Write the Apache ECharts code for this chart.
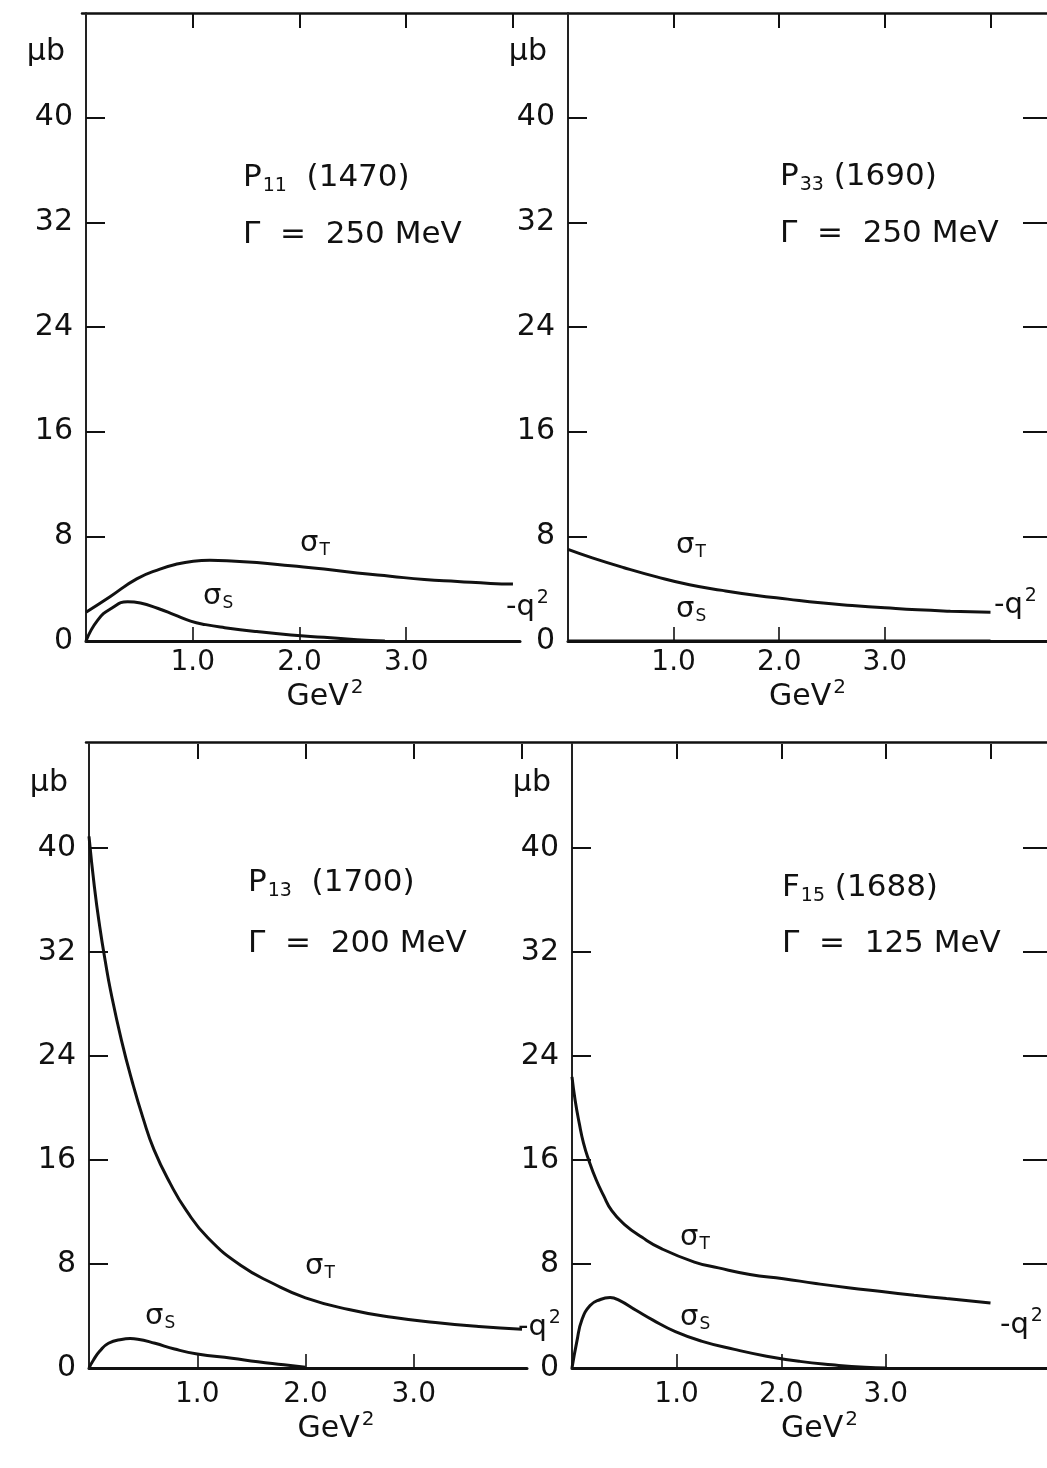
<!DOCTYPE html>
<html><head><meta charset="utf-8">
<script src="https://cdn.jsdelivr.net/npm/echarts@6/dist/echarts.min.js"></script>
<style>html,body{margin:0;padding:0;background:#fff}#c{width:1047px;height:1468px}</style>
</head><body><div id="c"></div>
<script>
// ---------- data ----------
// x = -q^2 (GeV^2), y = cross section (microbarn)
const p11T_x = [0, 0.225, 0.475, 0.693, 0.85, 1.005, 1.16, 1.318, 1.6, 1.92, 2.23, 2.54, 2.85, 3.17, 3.48, 3.79, 4.0];
const p11T_y = [2.2, 3.39, 4.75, 5.5, 5.88, 6.1, 6.17, 6.14, 6.0, 5.75, 5.5, 5.2, 4.95, 4.7, 4.55, 4.4, 4.35];
const p11S_x = [0, 0.11, 0.24, 0.39, 0.51, 0.67, 0.83, 0.98, 1.12, 1.3, 1.6, 1.92, 2.23, 2.54, 2.8];
const p11S_y = [0, 1.6, 2.5, 3.0, 2.9, 2.5, 2.0, 1.52, 1.25, 1.02, 0.72, 0.46, 0.28, 0.1, 0];

const p33T_x = [0, 0.23, 0.53, 0.84, 1.15, 1.46, 1.77, 2.08, 2.39, 2.69, 3.0, 3.31, 3.62, 4.0];
const p33T_y = [7.0, 6.35, 5.6, 4.9, 4.3, 3.87, 3.5, 3.2, 2.92, 2.72, 2.54, 2.38, 2.28, 2.2];
const p33S_x = [0, 1.0, 2.0, 3.0, 4.0];
const p33S_y = [0, 0, 0, 0, 0];

const p13T_x = [0, 0.05, 0.1, 0.15, 0.2, 0.3, 0.4, 0.5, 0.6, 0.75, 0.9, 1.1, 1.4, 1.7, 2.0, 2.4, 2.8, 3.2, 3.6, 4.0];
const p13T_y = [40.9, 37.0, 33.9, 31.3, 29.0, 25.2, 22.0, 19.2, 16.8, 14.2, 12.1, 10.0, 7.9, 6.5, 5.4, 4.5, 3.9, 3.5, 3.2, 2.98];
const p13S_x = [0, 0.04, 0.1, 0.18, 0.3, 0.38, 0.45, 0.61, 0.79, 1.0, 1.32, 1.56, 1.8, 2.0];
const p13S_y = [0, 0.6, 1.3, 1.9, 2.2, 2.26, 2.22, 1.9, 1.46, 1.08, 0.75, 0.48, 0.25, 0.05];

const f15T_x = [0, 0.03, 0.07, 0.11, 0.16, 0.23, 0.3, 0.38, 0.5, 0.67, 0.85, 1.17, 1.4, 1.7, 2.02, 2.33, 2.64, 2.96, 3.27, 3.58, 4.0];
const f15T_y = [22.4, 20.6, 18.8, 17.3, 16.0, 14.5, 13.3, 12.1, 11.05, 10.05, 9.2, 8.15, 7.7, 7.2, 6.87, 6.5, 6.17, 5.88, 5.6, 5.34, 5.0];
const f15S_x = [0, 0.047, 0.094, 0.173, 0.265, 0.364, 0.453, 0.612, 0.77, 0.988, 1.236, 1.553, 1.86, 2.177, 2.484, 2.8, 3.01];
const f15S_y = [0, 2.07, 3.7, 4.8, 5.25, 5.42, 5.2, 4.44, 3.7, 2.8, 2.07, 1.43, 0.91, 0.51, 0.25, 0.05, 0];

// tick / label values
const yTickValues = [8, 16, 24, 32, 40];
const yLabelValues = [0, 8, 16, 24, 32, 40, 45];   // 45 carries the unit "μb"
const xLabelValues = [1, 2, 3];
const xTopTickValues = [1, 2, 3, 4];
const Y_MAX = 48;

const panelNames = ['P|11|  (1470)', 'P|33| (1690)', 'P|13|  (1700)', 'F|15| (1688)'];
const panelWidths = ['Γ  =  250 MeV', 'Γ  =  250 MeV', 'Γ  =  200 MeV', 'Γ  =  125 MeV'];

// ---------- layout / style ----------
const FONT = 'DejaVu Sans';
const INK = '#111';
const panels = [
  {left: 86,  top: 13,  width: 434, height: 628, xmax: 4.066, lblMargin: 8,  nameGap: 36, nameShift: 44, title:[243,178,235], sT:[300,543], sS:[203,596], q:[506,607], right:false},
  {left: 568, top: 13,  width: 492, height: 628, xmax: 4.535, lblMargin: 8,  nameGap: 36, nameShift: 0,  title:[780,177,234], sT:[676,545], sS:[676,609], q:[994,605], right:true},
  {left: 89,  top: 744, width: 438, height: 624, xmax: 4.046, lblMargin: 13, nameGap: 42, nameShift: 56, title:[248,883,944], sT:[305,1266], sS:[145,1316], q:[518,1327], right:false},
  {left: 572, top: 744, width: 488, height: 624, xmax: 4.54,  lblMargin: 13, nameGap: 42, nameShift: 20, title:[782,888,944], sT:[680,1237], sS:[680,1317], q:[1000,1325], right:true}
];
const curves = [
  [[p11T_x, p11T_y], [p11S_x, p11S_y]],
  [[p33T_x, p33T_y], [p33S_x, p33S_y]],
  [[p13T_x, p13T_y], [p13S_x, p13S_y]],
  [[f15T_x, f15T_y], [f15S_x, f15S_y]]
];

function rich(size) {
  const t = {fontFamily: FONT, color: INK, fill: INK};
  return {
    m:   Object.assign({fontSize: size}, t),
    sub: Object.assign({fontSize: Math.round(size * 0.6), padding: [Math.round(size * 0.55), 0, 0, 1]}, t),
    sup: Object.assign({fontSize: Math.round(size * 0.65), padding: [0, 0, Math.round(size * 0.6), 2]}, t)
  };
}

const grid = [], xAxis = [], yAxis = [], series = [], graphic = [];

panels.forEach((p, i) => {
  grid.push({left: p.left, top: p.top, width: p.width, height: p.height, containLabel: false});
  const xb = xAxis.length;
  xAxis.push({
    gridIndex: i, type: 'value', min: 0, max: p.xmax, position: 'bottom',
    axisLine: {show: true, onZero: false, lineStyle: {color: INK, width: 3}},
    axisTick: {show: true, inside: true, length: 14, customValues: xLabelValues, lineStyle: {color: INK, width: 1.6}},
    axisLabel: {show: true, customValues: xLabelValues, formatter: v => Number(v).toFixed(1),
                fontFamily: FONT, fontSize: 28, color: INK, margin: p.lblMargin},
    splitLine: {show: false},
    name: '{m|GeV}{sup|2}', nameLocation: 'middle', nameGap: p.nameGap,
    nameTextStyle: {rich: rich(30), padding: [0, 0, 0, p.nameShift]}
  });
  xAxis.push({
    gridIndex: i, type: 'value', min: 0, max: p.xmax, position: 'top',
    axisLine: {show: false, onZero: false},
    axisTick: {show: true, inside: true, length: 15, customValues: xTopTickValues, lineStyle: {color: INK, width: 2}},
    axisLabel: {show: false}, splitLine: {show: false}
  });
  const yl = yAxis.length;
  yAxis.push({
    gridIndex: i, type: 'value', min: 0, max: Y_MAX, position: 'left', z: 3,
    axisLine: {show: true, onZero: false, lineStyle: {color: '#222', width: 2}},
    axisTick: {show: true, inside: true, length: 19, customValues: yTickValues, lineStyle: {color: INK, width: 2}},
    axisLabel: {show: true, customValues: yLabelValues,
                formatter: v => (v === 45 ? '{u|μb}' : String(v)),
                rich: {u: {fontFamily: FONT, fontSize: 30, color: INK, padding: [0, 8, 0, 0]}},
                fontFamily: FONT, fontSize: 30, color: INK, margin: 13},
    splitLine: {show: false}
  });
  if (p.right) {
    yAxis.push({
      gridIndex: i, type: 'value', min: 0, max: Y_MAX, position: 'right',
      axisLine: {show: false, onZero: false},
      axisTick: {show: true, inside: true, length: 24, customValues: yTickValues, lineStyle: {color: INK, width: 2}},
      axisLabel: {show: false}, splitLine: {show: false}
    });
  }
  curves[i].forEach(c => {
    series.push({
      type: 'line', xAxisIndex: xb, yAxisIndex: yl,
      data: c[0].map((x, k) => [x, c[1][k]]),
      symbol: 'none', showSymbol: false, smooth: 0.5,
      lineStyle: {color: INK, width: 3}, silent: true, z: 4
    });
  });

  // annotations
  const nm = panelNames[i].split('|');
  const R = rich(31);
  graphic.push({type: 'text', x: p.title[0], y: p.title[1],
    style: {text: '{m|' + nm[0] + '}{sub|' + nm[1] + '}{m|' + nm[2] + '}', rich: R, align: 'left', verticalAlign: 'middle'}});
  graphic.push({type: 'text', x: p.title[0], y: p.title[2],
    style: {text: '{m|' + panelWidths[i] + '}', rich: R, align: 'left', verticalAlign: 'middle'}});
  const RS = rich(29);
  graphic.push({type: 'text', x: p.sT[0], y: p.sT[1],
    style: {text: '{m|σ}{sub|T}', rich: RS, align: 'left', verticalAlign: 'middle'}});
  graphic.push({type: 'text', x: p.sS[0], y: p.sS[1],
    style: {text: '{m|σ}{sub|S}', rich: RS, align: 'left', verticalAlign: 'middle'}});
  graphic.push({type: 'text', x: p.q[0], y: p.q[1],
    style: {text: '{m|-q}{sup|2}', rich: rich(29), align: 'left', verticalAlign: 'middle'}});
});

// frame lines across the top of each row
[[82, 13], [86, 742]].forEach((f, k) => {
  const gi = grid.length;
  grid.push({left: f[0], top: f[1], width: 1000, height: 20});
  xAxis.push({gridIndex: gi, type: 'value', min: 0, max: 1, position: 'top',
    axisLine: {show: true, onZero: false, lineStyle: {color: INK, width: 2.5}},
    axisTick: {show: false}, axisLabel: {show: false}, splitLine: {show: false}});
  yAxis.push({gridIndex: gi, type: 'value', min: 0, max: 1, show: false});
});

const chart = echarts.init(document.getElementById('c'), null, {renderer: 'canvas'});
chart.setOption({
  backgroundColor: '#fff',
  animation: false,
  grid, xAxis, yAxis, series, graphic
});
</script>
</body></html>
